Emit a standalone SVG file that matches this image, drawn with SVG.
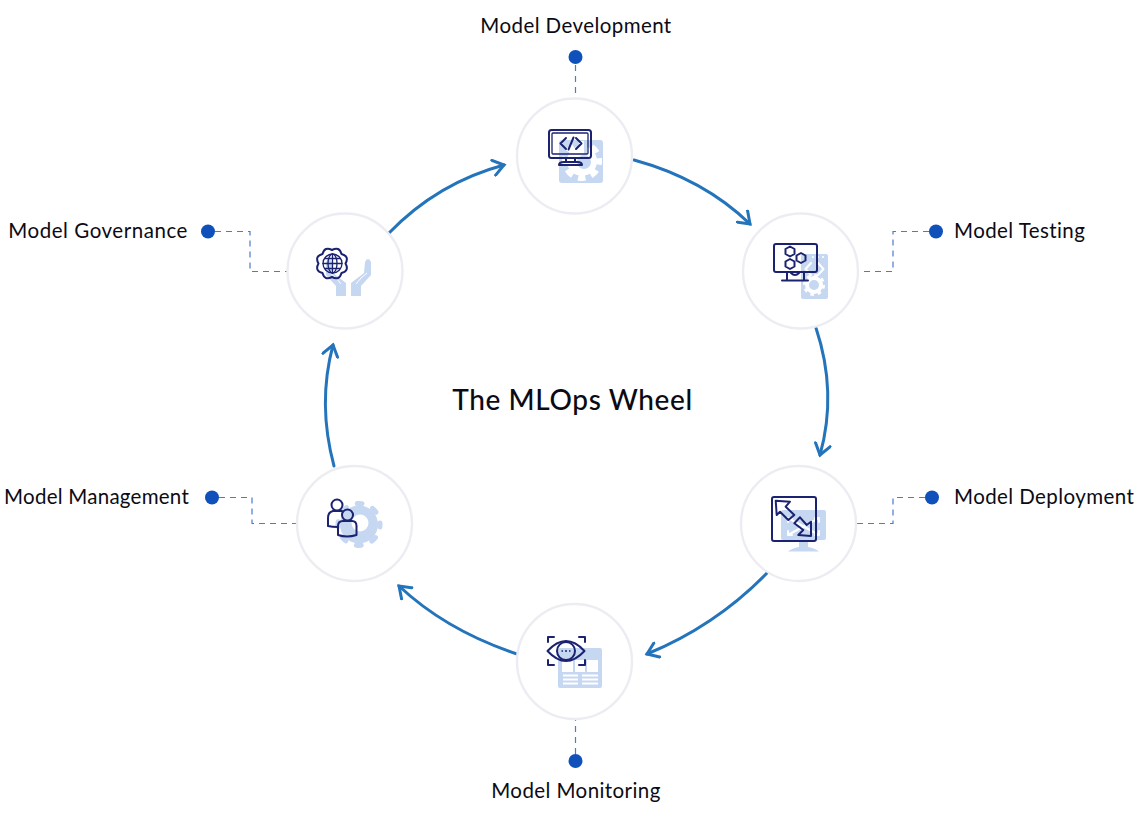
<svg xmlns="http://www.w3.org/2000/svg" width="1145" height="820" viewBox="0 0 1145 820">
<style>
text{font-family:"Lato","Liberation Sans",sans-serif;fill:#0b0b14;font-size:20.5px;letter-spacing:.42px}
.title{font-size:28px;font-weight:500;letter-spacing:.6px}
.ring{fill:#fff;stroke:#ecedf3;stroke-width:2.400}
.arc{fill:none;stroke:#2474bb;stroke-width:3;stroke-linecap:round;marker-end:url(#chev)}
.dash{fill:none;stroke:#4a7bd0;stroke-width:1.200;stroke-dasharray:6 5}
.dot{fill:#0f50bb}
.ink{fill:none;stroke:#1b2270;stroke-width:2;stroke-linejoin:round;stroke-linecap:round}
.thin{stroke-width:1.300}
.pale{fill:#c6d7f1}
.cut{fill:#fff}
.cutl{fill:none;stroke:#fff;stroke-width:2;stroke-linecap:round;stroke-linejoin:round}
</style>
<defs>
<marker id="chev" viewBox="-12 -9 15 18" refX="0" refY="0" markerWidth="15" markerHeight="18" markerUnits="userSpaceOnUse" orient="auto">
<path d="M-10.500 -7.500L0 0L-10.500 7.500" fill="none" stroke="#2474bb" stroke-width="3" stroke-linecap="square"/>
</marker>
</defs>
<g id="connectors">
<path class="arc" d="M634 160C678 172 718 193 750 224"/>
<path class="arc" d="M816 328C830 370 832 412 820 455"/>
<path class="arc" d="M767 573C733 608 693 635 647 654"/>
<path class="arc" d="M517 654C472 639 432 617 399 586"/>
<path class="arc" d="M334 466C323 425 322 386 333 345"/>
<path class="arc" d="M389 233C421 200 459 177 504 165"/>
<path class="dash" d="M575.500 65V98"/>
<path class="dash" d="M929 231.500H893V271.500H859"/>
<path class="dash" d="M925 497.500H893V523.500H856"/>
<path class="dash" d="M575.500 754V720"/>
<path class="dash" d="M219 497.500H252V523.500H297"/>
<path class="dash" d="M215 231.500H250V271.500H287"/>
</g>
<text class="title" x="572.500" y="410" text-anchor="middle">The MLOps Wheel</text>
<g id="model-development">
<circle class="ring" cx="574.500" cy="156" r="57.500"/>
<rect class="pale" x="559" y="140" width="44" height="43" rx="3"/>
<circle cx="582" cy="161" r="15" fill="#fff"/>
<circle cx="582" cy="161" r="17" fill="none" stroke="#fff" stroke-width="6" stroke-dasharray="7.500 5.860" stroke-dashoffset="3.700"/>
<circle class="pale" cx="584" cy="162" r="7"/>
<rect x="549" y="130" width="42" height="28" rx="2.500" fill="#fff" class="ink"/>
<path class="pale" d="M584 140H587V154H584Z"/>
<rect class="ink thin" x="552" y="133" width="36" height="21" rx="1"/>
<path class="ink" d="M566 138L560.500 143.500L566 149M576 138L581.500 143.500L576 149M573.500 137.500L568.500 149.500M566 158V162M575 158V162M559 165Q559 162 564 162H577Q582 162 582 165Z"/>
</g>
<g id="model-testing">
<circle class="ring" cx="800.500" cy="271" r="57.500"/>
<rect class="pale" x="801" y="254" width="27" height="45" rx="2"/>
<path class="cutl" d="M811 263L805.500 269L811 275M818 263L823.500 269L818 275"/>
<path d="M812 257H814M817 257H819M822 257H824" stroke="#fff" stroke-width="1.500" fill="none"/>
<circle cx="814" cy="285" r="7" fill="none" stroke="#fff" stroke-width="4"/>
<circle cx="814" cy="285" r="9.500" fill="none" stroke="#fff" stroke-width="3" stroke-dasharray="3.500 3.960"/>
<rect x="774" y="244" width="43" height="28" rx="2" fill="#fff" class="ink"/>
<path class="ink" d="M787 272V280M804 272V280M782 280.500H808"/>
<path class="ink" d="M791 273Q795 277 799 273"/>
<path class="ink" d="M790 246.500L794.500 249V254L790 256.500L785.500 254V249Z"/>
<path class="ink" d="M801 253L805.500 255.500V260.500L801 263L796.500 260.500V255.500Z"/>
<path class="ink" d="M790 259L794.500 261.500V266.500L790 269L785.500 266.500V261.500Z"/>
</g>
<g id="model-deployment">
<circle class="ring" cx="798.500" cy="523.500" r="57.500"/>
<rect class="pale" x="781" y="510" width="45" height="30" rx="2"/>
<path class="pale" d="M799 540H808V547Q815 548 819 551.500H788Q792 548 799 547Z"/>
<path class="cutl" d="M788 518L819 535M819 518L788 535M788 522V518H792M815 518H819V522M788 531V535H792M815 535H819V531"/>
<rect x="772" y="497" width="44" height="44" rx="2" fill="none" class="ink"/>
<path fill="#fff" class="ink" d="M775.700 500.700L790 501.700L785.700 506.700L794.300 515L788.300 520L780 511.700L776.700 515Z"/>
<path fill="#fff" class="ink" d="M811 536L798.300 535L803.300 530L794.300 523.300L800 517.300L806.700 525L811 521.700Z"/>
</g>
<g id="model-monitoring">
<circle class="ring" cx="574.500" cy="661.500" r="57.500"/>
<rect class="pale" x="558" y="648" width="44" height="40" rx="2"/>
<path class="cut" d="M562 660H573V672H562ZM575 660H585V672H575ZM587 660H598V672H587ZM563 674.500H578V676.500H563ZM582 674.500H598V676.500H582ZM563 678.500H578V680.500H563ZM582 678.500H598V680.500H582ZM563 682.500H578V684.500H563ZM582 682.500H598V684.500H582Z"/>
<path class="ink" d="M548 642V637H554M579 637H585V642M548 660V665H554M579 665H585V660"/>
<path d="M547.500 651Q566 631 584.500 651Q566 671 547.500 651Z" fill="#fff" class="ink"/>
<circle class="ink" cx="566" cy="651" r="9"/>
<path d="M561.500 651H563M565 651H567M569 651H570.500" stroke="#1b2270" stroke-width="1.500" fill="none"/>
</g>
<g id="model-management">
<circle class="ring" cx="354.500" cy="523.500" r="57.500"/>
<circle class="pale" cx="359" cy="524.500" r="19"/>
<circle cx="359" cy="524.500" r="21" fill="none" stroke="#c6d7f1" stroke-width="5" stroke-linecap="round" stroke-dasharray="5 11.490" stroke-dashoffset="2.500"/>
<circle cx="360" cy="523" r="8.500" fill="#fff"/>
<circle cx="337" cy="505" r="5.500" class="ink"/>
<path class="ink" d="M342 511H333Q328 512 328 518V526Q332 527 338 527"/>
<circle cx="347.500" cy="515" r="5.500" class="ink"/>
<path class="ink" d="M338 535V526Q338 521 343 521H352Q356.500 521 356.500 526V535Q347 538 338 535Z"/>
</g>
<g id="model-governance">
<circle class="ring" cx="345" cy="271" r="57.500"/>
<path class="pale" d="M365 262Q368 256 371 262V275L361 286V296H351V283L364 273Z"/>
<path class="pale" d="M332 262Q329 256 326 262V275L336 286V296H346V283L333 273Z"/>
<path d="M356 284L361 278L367 273M341 284L336 278L330 273" stroke="#fff" stroke-width="1" fill="none"/>
<path fill="#fff" class="ink" stroke-width="1.500" d="M345.500 263.500Q349.600 270.800 341.500 273Q339.300 281 332 277Q324.700 281 322.500 273Q314.400 270.800 318.500 263.500Q314.400 256.200 322.500 254Q324.700 246 332 250Q339.300 246 341.500 254Q349.600 256.200 345.500 263.500Z"/>
<circle class="ink thin" cx="332.500" cy="263.500" r="9.500"/>
<path class="ink thin" d="M323 263.500H342M324.500 258.500H340.500M324.500 268.500H340.500M332.500 254V273"/>
<ellipse class="ink thin" cx="332.500" cy="263.500" rx="4.500" ry="9.500"/>
</g>
<g id="label-development"><circle class="dot" cx="575.500" cy="57" r="7"/><text x="576" y="32.500" text-anchor="middle">Model Development</text></g>
<g id="label-testing"><circle class="dot" cx="936" cy="231.500" r="7"/><text x="954" y="238">Model Testing</text></g>
<g id="label-deployment"><circle class="dot" cx="932" cy="497.500" r="7"/><text x="954" y="504">Model Deployment</text></g>
<g id="label-monitoring"><circle class="dot" cx="575.500" cy="761" r="7"/><text x="576" y="798" text-anchor="middle">Model Monitoring</text></g>
<g id="label-management"><circle class="dot" cx="212" cy="497.500" r="7"/><text x="189" y="504" text-anchor="end" style="letter-spacing:.25px">Model Management</text></g>
<g id="label-governance"><circle class="dot" cx="208" cy="231.500" r="7"/><text x="188" y="238" text-anchor="end" style="letter-spacing:.55px">Model Governance</text></g>
</svg>
